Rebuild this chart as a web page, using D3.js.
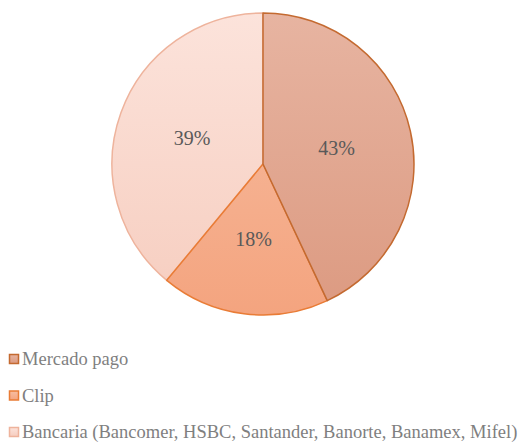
<!DOCTYPE html>
<html>
<head>
<meta charset="utf-8">
<script src="https://cdn.jsdelivr.net/npm/d3@7/dist/d3.min.js"></script>
<style>
  body { margin: 0; background: #fff; }
</style>
</head>
<body>
<script>
// Data
var categories = ["Mercado pago", "Clip", "Bancaria (Bancomer, HSBC, Santander, Banorte, Banamex, Mifel)"];
var values = [43, 18, 39];
var labels = ["43%", "18%", "39%"];

// Colours: gradient top, gradient bottom, stroke
var topColors = ["#e7b4a1", "#f7bea2", "#fce3db"];
var bottomColors = ["#dc9a81", "#f4a47f", "#f6cdbf"];
var strokeColors = ["#c46a30", "#e97c36", "#eeb39c"];

var serif = "'Liberation Serif', 'Times New Roman', Times, 'DejaVu Serif', serif";

var width = 523, height = 443;
var cx = 263, cy = 164, radius = 151;

var svg = d3.select("body")
    .append("svg")
    .attr("width", width)
    .attr("height", height);

var defs = svg.append("defs");
categories.forEach(function(c, i) {
  var grad = defs.append("linearGradient")
      .attr("id", "grad" + i)
      .attr("gradientUnits", "userSpaceOnUse")
      .attr("x1", 0).attr("y1", -radius)
      .attr("x2", 0).attr("y2", radius);
  grad.append("stop").attr("offset", "0%").attr("stop-color", topColors[i]);
  grad.append("stop").attr("offset", "100%").attr("stop-color", bottomColors[i]);
  var lg = defs.append("linearGradient")
      .attr("id", "lgrad" + i)
      .attr("x1", 0).attr("y1", 0).attr("x2", 0).attr("y2", 1);
  lg.append("stop").attr("offset", "0%").attr("stop-color", topColors[i]);
  lg.append("stop").attr("offset", "100%").attr("stop-color", bottomColors[i]);
});

var pie = d3.pie().sort(null).value(function(d) { return d; });
var arcs = pie(values);

var arc = d3.arc().innerRadius(0).outerRadius(radius);
var labelArc = d3.arc().innerRadius(radius * 0.5).outerRadius(radius * 0.5);

var g = svg.append("g")
    .attr("transform", "translate(" + cx + "," + cy + ")");

// draw lighter strokes first so darker ones sit on top
var order = [2, 1, 0];
g.selectAll("path.slice")
    .data(order.map(function(i) { return {a: arcs[i], i: i}; }))
    .enter().append("path")
    .attr("class", "slice")
    .attr("d", function(d) { return arc(d.a); })
    .attr("fill", function(d) { return "url(#grad" + d.i + ")"; })
    .attr("stroke", function(d) { return strokeColors[d.i]; })
    .attr("stroke-width", 1.5)
    .attr("stroke-linejoin", "round");

g.selectAll("text.lbl")
    .data(arcs)
    .enter().append("text")
    .attr("class", "lbl")
    .attr("transform", function(d) {
      var c = labelArc.centroid(d);
      return "translate(" + c[0] + "," + c[1] + ")";
    })
    .attr("text-anchor", "middle")
    .attr("dy", "0.35em")
    .attr("font-family", serif)
    .attr("font-size", 20)
    .attr("fill", "#595959")
    .text(function(d, i) { return labels[i]; });

// Legend
var legend = svg.append("g");
var rowY = d3.scalePoint().domain(categories).range([359, 432]);

var item = legend.selectAll("g.item")
    .data(categories)
    .enter().append("g")
    .attr("class", "item")
    .attr("transform", function(d) { return "translate(0," + rowY(d) + ")"; });

item.append("rect")
    .attr("x", 9.5)
    .attr("y", -4.5)
    .attr("width", 9)
    .attr("height", 9)
    .attr("fill", function(d, i) { return "url(#lgrad" + i + ")"; })
    .attr("stroke", function(d, i) { return strokeColors[i]; })
    .attr("stroke-width", 1.5);

item.append("text")
    .attr("x", 22)
    .attr("dy", "0.35em")
    .attr("font-family", serif)
    .attr("font-size", 18.5)
    .attr("fill", "#7f7f7f")
    .text(function(d) { return d; });
</script>
</body>
</html>
